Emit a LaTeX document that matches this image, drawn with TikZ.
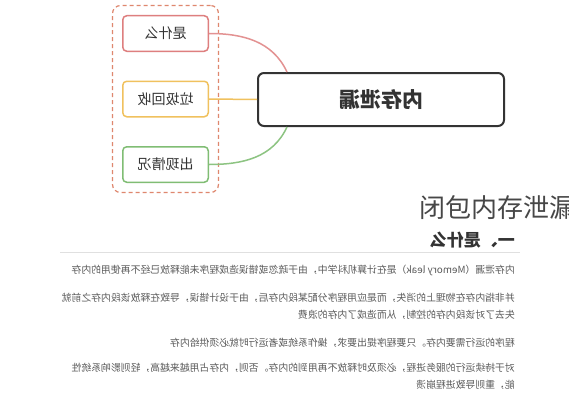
\documentclass[tikz,border=0pt]{standalone}
\usepackage{fontspec}
\usepackage{tikz}
\usetikzlibrary{arrows.meta,positioning,fit,calc}
\newfontfamily\cjk{Noto Sans CJK SC}
\definecolor{LeafRed}{HTML}{DE7F7F}
\definecolor{LeafYellow}{HTML}{F0C15E}
\definecolor{LeafGreen}{HTML}{80BD74}
\definecolor{GroupLine}{HTML}{DF876E}
\definecolor{InkDark}{HTML}{333333}
\definecolor{InkBody}{HTML}{5A5A5A}

\begin{document}
\begin{tikzpicture}[x=1pt, y=1pt,
    leaf/.style={draw, fill=white, rounded corners=4pt, line width=1.5pt,
                 minimum width=85.5pt, minimum height=35.5pt, inner sep=0pt,
                 font=\cjk\fontsize{14}{16}\selectfont, text=InkDark},
    group/.style={draw=GroupLine, dashed, dash pattern=on 4pt off 3pt,
                  rounded corners=8pt, line width=1.2pt, inner sep=9.5pt},
    rootbox/.style={draw=InkDark, fill=white, rounded corners=6pt, line width=2pt,
                    minimum width=246pt, minimum height=53pt,
                    font=\cjk\bfseries\fontsize{21}{24}\selectfont, text=InkDark},
    link/.style={line width=1.5pt},
    bodyline/.style={anchor=east, inner sep=0pt, text=InkBody,
                     font=\cjk\fontsize{9.85}{12}\selectfont},
  ]
    \useasboundingbox (0,0) rectangle (569,400);
    \clip (0,0) rectangle (569,400);
    \fill[white] (0,0) rectangle (569,400);

    \node[leaf, draw=LeafRed]    (what) at (165.5,366.5) {\reflectbox{是什么}};
    \node[leaf, draw=LeafYellow] (gc)   at (165.5,301)   {\reflectbox{垃圾回收}};
    \node[leaf, draw=LeafGreen]  (case) at (165.5,235.5) {\reflectbox{出现情况}};
    \node[group, fit=(what)(case)] (box) {};
    \node[rootbox] (root) at (381,300.5) {\reflectbox{内存泄漏}};

    \draw[link, LeafRed!85]    (what.east) to[out=0, in=115] ([xshift=30pt]root.north west);
    \draw[link, LeafYellow]    (gc.east) -- (root.west);
    \draw[link, LeafGreen!90]  (case.east) to[out=0, in=-115] ([xshift=30pt]root.south west);

    \node[anchor=west, inner sep=0pt, text=InkDark!90,
          font=\cjk\fontsize{26}{30}\selectfont] (title) at (419,192.5) {闭包内存泄漏};

    \node[anchor=east, inner sep=0pt, text=InkDark,
          font=\cjk\bfseries\fontsize{17}{20}\selectfont] (head) at (515,160) {\reflectbox{一、是什么}};
    \draw[black!12, line width=0.8pt] (60,148) -- (520,148);

    \node[bodyline] (p1)  at (515,130) {\reflectbox{内存泄漏（Memory leak）是在计算机科学中，由于疏忽或错误造成程序未能释放已经不再使用的内存}};
    \node[bodyline] (p2)  at (515,102) {\reflectbox{并非指内存在物理上的消失，而是应用程序分配某段内存后，由于设计错误，导致在释放该段内存之前就}};
    \node[bodyline] (p2b) at (515,85)  {\reflectbox{失去了对该段内存的控制，从而造成了内存的浪费}};
    \node[bodyline] (p3)  at (515,57)  {\reflectbox{程序的运行需要内存。只要程序提出要求，操作系统或者运行时就必须供给内存}};
    \node[bodyline] (p4)  at (515,32)  {\reflectbox{对于持续运行的服务进程，必须及时释放不再用到的内存。否则，内存占用越来越高，轻则影响系统性}};
    \node[bodyline] (p4b) at (515,15)  {\reflectbox{能，重则导致进程崩溃}};
  \end{tikzpicture}
\end{document}
